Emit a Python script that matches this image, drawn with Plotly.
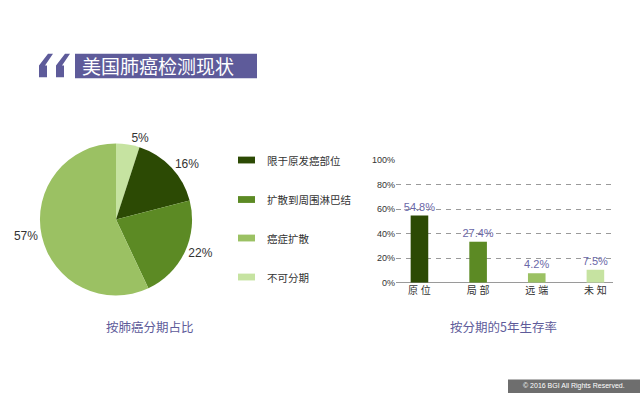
import plotly.graph_objects as go

W, H = 640, 400
def px(x): return x / W
def py(y): return 1 - y / H

# ---- data ----
title_text = "美国肺癌检测现状"
pie_labels = ["不可分期", "限于原发癌部位", "扩散到周围淋巴结", "癌症扩散"]
pie_values = [5, 16, 22, 57]
pie_colors = ["#c6e3a1", "#2c4a04", "#5c8a24", "#9bc163"]
legend_labels = ["限于原发癌部位", "扩散到周围淋巴结", "癌症扩散", "不可分期"]
legend_colors = ["#2c4a04", "#5c8a24", "#9bc163", "#c6e3a1"]

bar_cats = ["原 位", "局 部", "远 端", "未 知"]
bar_heights = [54.8, 33.5, 7.9, 10.6]
bar_labels = ["54.8%", "27.4%", "4.2%", "7.5%"]
bar_colors = ["#2c4a04", "#5c8a24", "#9bc163", "#c6e3a1"]
y_ticks = [0, 20, 40, 60, 80, 100]
y_ticktext = ["0%", "20%", "40%", "60%", "80%", "100%"]

pie_subtitle = "按肺癌分期占比"
bar_subtitle = "按分期的5年生存率"
copyright_text = "© 2016 BGI All Rights Reserved."

PURPLE = "#5e5b9a"
FONT = "Liberation Sans, Noto Sans CJK SC, sans-serif"

fig = go.Figure()

# pie
cx, cy, r = 116, 220, 78
fig.add_trace(go.Pie(
    labels=pie_labels, values=pie_values, sort=False, direction="clockwise",
    rotation=0, marker=dict(colors=pie_colors, line=dict(width=0)),
    textinfo="percent", textposition="outside",
    textfont=dict(size=12, color="#333333", family=FONT),
    showlegend=False, hoverinfo="label+percent",
    domain=dict(x=[px(cx - r), px(cx + r)], y=[py(cy + r), py(cy - r)]),
))

# bars
fig.add_trace(go.Bar(
    x=list(range(len(bar_cats))), y=bar_heights, text=bar_labels,
    textposition="outside", cliponaxis=False, constraintext="none",
    textfont=dict(size=11, color="#6a67a8", family=FONT),
    marker=dict(color=bar_colors, line=dict(width=0)), width=0.3,
    showlegend=False, xaxis="x", yaxis="y",
))

fig.update_layout(
    width=W, height=H, margin=dict(l=0, r=0, t=0, b=0),
    paper_bgcolor="white", plot_bgcolor="white",
    font=dict(family=FONT, color="#333333"),
    xaxis=dict(domain=[px(396), px(613)], range=[-0.4, 3.3],
               tickvals=list(range(len(bar_cats))), ticktext=bar_cats,
               showgrid=False, showline=False, zeroline=False, ticks="",
               tickfont=dict(size=10, color="#333333")),
    yaxis=dict(domain=[py(285), py(159)], range=[0, 100],
               tickvals=y_ticks, ticktext=y_ticktext,
               showgrid=True, gridcolor="#9a9a9a", griddash="5px,5px", gridwidth=1,
               zeroline=True, zerolinecolor="#9a9a9a", zerolinewidth=1,
               showline=False, ticks="", tickfont=dict(size=9, color="#333333")),
    bargap=0.7,
)

shapes = []
annotations = []

# title quote marks
for x0 in (39, 56):
    path = (f"M {px(x0)},{py(74)} L {px(x0+8)},{py(74)} L {px(x0+8)},{py(62)} "
            f"L {px(x0+6)},{py(62)} L {px(x0+14)},{py(50)} L {px(x0+9)},{py(50)} "
            f"L {px(x0)},{py(62)} Z")
    shapes.append(dict(type="path", path=path, xref="paper", yref="paper",
                       fillcolor=PURPLE, line=dict(width=0)))
# title box
shapes.append(dict(type="rect", xref="paper", yref="paper",
                   x0=px(75), x1=px(257), y0=py(75), y1=py(50),
                   fillcolor=PURPLE, line=dict(width=0)))
annotations.append(dict(text=title_text, x=px(80), y=py(62.5), xref="paper", yref="paper",
                        xanchor="left", yanchor="middle", showarrow=False,
                        font=dict(size=19, color="white", family="Noto Sans CJK SC")))

# manual legend
leg_y = [159, 199.5, 239, 279]
for lab, col, yy in zip(legend_labels, legend_colors, leg_y):
    shapes.append(dict(type="rect", xref="paper", yref="paper",
                       x0=px(238), x1=px(255), y0=py(yy + 3.5), y1=py(yy - 3.5),
                       fillcolor=col, line=dict(width=0)))
    annotations.append(dict(text=lab, x=px(265), y=py(yy), xref="paper", yref="paper",
                            xanchor="left", yanchor="middle", showarrow=False,
                            font=dict(size=10.5, color="#333333", family="Noto Sans CJK SC")))

# subtitles
annotations.append(dict(text=pie_subtitle, x=px(150), y=py(330), xref="paper", yref="paper",
                        xanchor="center", yanchor="middle", showarrow=False,
                        font=dict(size=12.5, color=PURPLE, family="Noto Sans CJK SC")))
annotations.append(dict(text=bar_subtitle, x=px(503.5), y=py(330), xref="paper", yref="paper",
                        xanchor="center", yanchor="middle", showarrow=False,
                        font=dict(size=12.5, color=PURPLE, family="Noto Sans CJK SC")))

# copyright
shapes.append(dict(type="rect", xref="paper", yref="paper",
                   x0=px(508), x1=px(640), y0=py(398), y1=py(384),
                   fillcolor="#6e6e6e", line=dict(width=0)))
annotations.append(dict(text=copyright_text, x=px(574), y=py(391), xref="paper", yref="paper",
                        xanchor="center", yanchor="middle", showarrow=False,
                        font=dict(size=7, color="white", family=FONT)))

fig.update_layout(shapes=shapes, annotations=annotations)
fig.write_html("out.html", config={"displayModeBar": False},
               post_script="document.body.style.margin='0';document.body.style.padding='0';")
